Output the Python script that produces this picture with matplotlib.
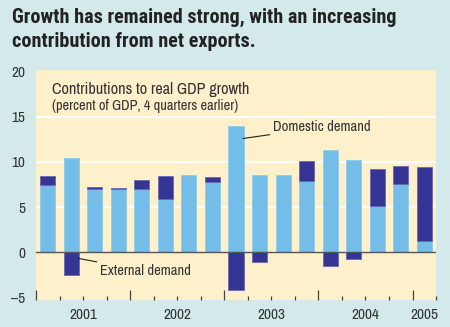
import matplotlib.pyplot as plt
from matplotlib.transforms import blended_transform_factory

# quarterly contributions, 2001Q1 .. 2005Q1
domestic = [7.4, 10.4, 7.05, 6.95, 6.95, 5.85, 8.5, 7.8, 14.0, 8.5, 8.5, 7.85,
            11.3, 10.25, 5.1, 7.5, 1.2]
external = [1.0, -2.5, 0.15, 0.2, 1.1, 2.55, 0.0, 0.55, -4.2, -1.05, 0.0, 2.25,
            -1.55, -0.75, 4.1, 2.0, 8.2]
years = ['2001', '2002', '2003', '2004', '2005']
yticks = [-5, 0, 5, 10, 15, 20]

bg = '#d3e9ea'
panel = '#fff0cc'
light = '#75bde9'
dark = '#343595'
txt = '#333333'

narrow = ['Archivo Narrow', 'Roboto Condensed', 'DejaVu Sans']
bold_narrow = ['Roboto Condensed', 'Barlow Condensed', 'DejaVu Sans']

fig = plt.figure(figsize=(4.5, 3.27), dpi=100, facecolor=bg)
ax = fig.add_axes([0.08, 0.083, 0.889, 0.703])
ax.set_facecolor(panel)

x = list(range(len(domestic)))
ext_bottom = [d if e > 0 else 0 for d, e in zip(domestic, external)]

ax.bar(x, domestic, width=0.64, color=light, edgecolor='#8fcbee', linewidth=0.6, zorder=3)
ax.bar(x, external, bottom=ext_bottom, width=0.64, color=dark,
       edgecolor='#6b68ae', linewidth=0.6, zorder=3)

ax.set_xlim(-0.5, 16.5)
ax.set_ylim(-5.3, 20.2)

for s in ax.spines.values():
    s.set_visible(False)

# white grid, dark zero line
for g in [5, 10, 15]:
    ax.axhline(g, color='white', lw=1.4, zorder=1)
ax.axhline(0, color='#555555', lw=1.0, zorder=4)

ax.set_yticks(yticks)
ax.set_yticklabels([str(v).replace('-', '\u2013') for v in yticks],
                   fontsize=11, color=txt, family=narrow)
ax.tick_params(axis='y', length=0, pad=8)

# quarter / year boundary ticks
ax.set_xticks([-0.5, 3.5, 7.5, 11.5, 15.5])
ax.set_xticks([q - 0.5 for q in range(18)], minor=True)
ax.set_xticklabels([])
ax.tick_params(axis='x', which='major', direction='in', length=7, width=0.9, color='#444444')
ax.tick_params(axis='x', which='minor', direction='in', length=3, width=0.9, color='#444444')

trans = blended_transform_factory(ax.transData, ax.transAxes)
for yr, xc in zip(years, [1.5, 5.5, 9.5, 13.5, 16]):
    ax.text(xc, -0.035, yr, transform=trans, ha='center', va='top',
            fontsize=11, color=txt, family=narrow)

ax.text(0.04, 0.915, 'Contributions to real GDP growth', transform=ax.transAxes,
        fontsize=11.7, color=txt, family=narrow, va='center')
ax.text(0.04, 0.845, '(percent of GDP, 4 quarters earlier)', transform=ax.transAxes,
        fontsize=10.3, color=txt, family=narrow, va='center')

# callouts
ax.annotate('Domestic demand', xy=(8.3, 12.6), xytext=(9.55, 13.85),
            fontsize=10.5, color=txt, family=narrow, va='center',
            arrowprops=dict(arrowstyle='-', color='#222222', lw=0.8, shrinkA=0, shrinkB=0))
ax.annotate('External demand', xy=(1.3, -0.7), xytext=(2.2, -2.1),
            fontsize=10.5, color=txt, family=narrow, va='center',
            arrowprops=dict(arrowstyle='-', color='#222222', lw=0.8, shrinkA=0, shrinkB=0))

fig.text(12 / 450, 1 - 8 / 327,
         'Growth has remained strong, with an increasing\ncontribution from net exports.',
         fontsize=14.5, fontweight='bold', color='#222222', family=bold_narrow,
         va='top', ha='left', linespacing=1.3)

fig.savefig('out.png', dpi=100, facecolor=bg)
